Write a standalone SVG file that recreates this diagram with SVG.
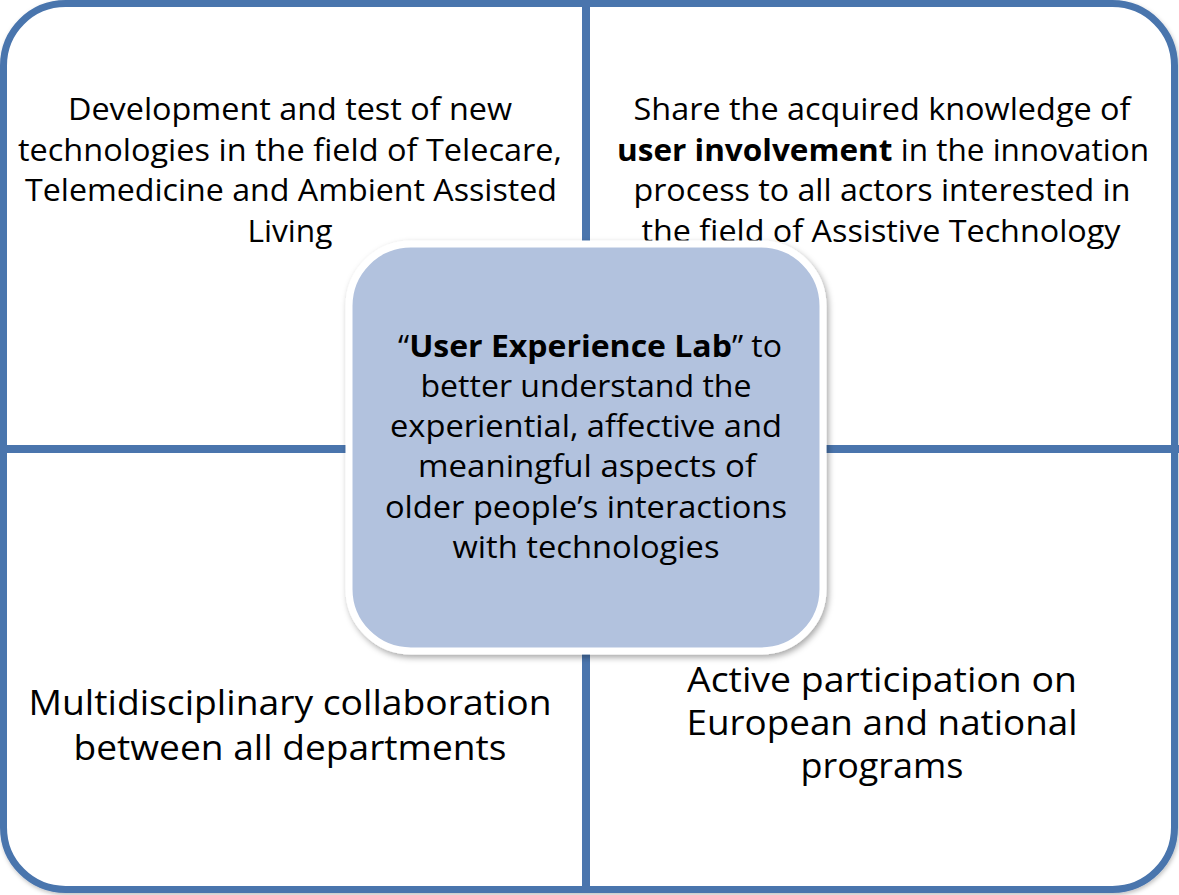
<svg xmlns="http://www.w3.org/2000/svg" width="1179" height="895" viewBox="0 0 1179 895">
  <defs>
    <filter id="sh" x="-10%" y="-10%" width="120%" height="120%">
      <feDropShadow dx="2" dy="3" stdDeviation="3" flood-color="#000" flood-opacity="0.35"/>
    </filter>
    <filter id="sh2" x="-5%" y="-5%" width="110%" height="110%">
      <feDropShadow dx="1" dy="2" stdDeviation="2" flood-color="#000" flood-opacity="0.25"/>
    </filter>
  </defs>
  <style>
    .frame { fill: #ffffff; stroke: #4a75ad; stroke-width: 7; }
    .div { stroke: #4a75ad; stroke-width: 8; fill: none; }
    .t { font-family: "Open Sans", "Noto Sans", sans-serif; fill: #000; text-anchor: middle; }
    .s29 { font-size: 30.5px; }
    .s32 { font-size: 34px; }
    .b { font-weight: bold; }
    .center { fill: #b2c2de; stroke: #ffffff; stroke-width: 7; }
  </style>
  <rect width="1179" height="895" fill="#ffffff"/>
  <g id="frame" filter="url(#sh2)">
    <rect class="frame" x="3.5" y="3.5" width="1171" height="886" rx="62" ry="62"/>
  </g>
  <g id="connectors">
    <line class="div" x1="586" y1="0" x2="586" y2="893"/>
    <line class="div" x1="0" y1="449" x2="1179" y2="449"/>
  </g>
  <g id="q-top-left">
    <text class="t s29" x="290" y="120" textLength="444" lengthAdjust="spacingAndGlyphs">Development and test of new</text>
    <text class="t s29" x="290" y="161" textLength="544" lengthAdjust="spacingAndGlyphs">technologies in the field of Telecare,</text>
    <text class="t s29" x="291" y="201" textLength="532" lengthAdjust="spacingAndGlyphs">Telemedicine and Ambient Assisted</text>
    <text class="t s29" x="290" y="242" textLength="85" lengthAdjust="spacingAndGlyphs">Living</text>
  </g>
  <g id="q-top-right">
    <text class="t s29" x="882" y="120" textLength="497" lengthAdjust="spacingAndGlyphs">Share the acquired knowledge of</text>
    <text class="t s29" x="883" y="161" textLength="532" lengthAdjust="spacingAndGlyphs"><tspan class="b">user involvement</tspan> in the innovation</text>
    <text class="t s29" x="882" y="201" textLength="497" lengthAdjust="spacingAndGlyphs">process to all actors interested in</text>
    <text class="t s29" x="881" y="242" textLength="479" lengthAdjust="spacingAndGlyphs">the field of Assistive Technology</text>
  </g>
  <g id="q-bottom-left">
    <text class="t s32" x="290" y="715" textLength="523" lengthAdjust="spacingAndGlyphs">Multidisciplinary collaboration</text>
    <text class="t s32" x="290" y="760" textLength="433" lengthAdjust="spacingAndGlyphs">between all departments</text>
  </g>
  <g id="q-bottom-right">
    <text class="t s32" x="882" y="692" textLength="390" lengthAdjust="spacingAndGlyphs">Active participation on</text>
    <text class="t s32" x="882" y="735" textLength="391" lengthAdjust="spacingAndGlyphs">European and national</text>
    <text class="t s32" x="882" y="778" textLength="163" lengthAdjust="spacingAndGlyphs">programs</text>
  </g>
  <g id="center-node">
    <rect class="center" x="349" y="244" width="474" height="407" rx="62" ry="62" filter="url(#sh)"/>
    <text class="t s29" x="590" y="357" textLength="384" lengthAdjust="spacingAndGlyphs">“<tspan class="b">User Experience Lab</tspan>” to</text>
    <text class="t s29" x="586" y="397" textLength="331" lengthAdjust="spacingAndGlyphs">better understand the</text>
    <text class="t s29" x="586" y="437" textLength="392" lengthAdjust="spacingAndGlyphs">experiential, affective and</text>
    <text class="t s29" x="587" y="477" textLength="338" lengthAdjust="spacingAndGlyphs">meaningful aspects of</text>
    <text class="t s29" x="586" y="518" textLength="402" lengthAdjust="spacingAndGlyphs">older people’s interactions</text>
    <text class="t s29" x="586" y="558" textLength="267" lengthAdjust="spacingAndGlyphs">with technologies</text>
  </g>
</svg>
